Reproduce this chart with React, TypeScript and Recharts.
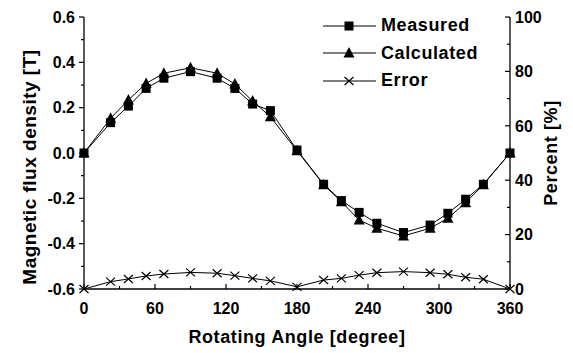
import { Line, LineChart, XAxis, YAxis } from "recharts";

const angles = [
  0, 22.5, 37.5, 52.5, 67.5, 90, 112.5, 127.5, 142.5, 157.5, 180, 202.5, 217.5,
  232.5, 247.5, 270, 292.5, 307.5, 322.5, 337.5, 360,
];
const measured = [
  0, 0.134, 0.207, 0.285, 0.33, 0.359, 0.33, 0.285, 0.216, 0.187, 0.013,
  -0.138, -0.21, -0.262, -0.31, -0.351, -0.318, -0.266, -0.204, -0.138, 0,
];
const calculated = [
  0, 0.153, 0.234, 0.307, 0.352, 0.376, 0.352, 0.304, 0.229, 0.16, 0.01,
  -0.14, -0.215, -0.296, -0.332, -0.366, -0.332, -0.288, -0.219, -0.14, 0,
];
const errorPct = [
  0, 2.7, 3.7, 4.8, 5.5, 6.1, 5.8, 4.9, 3.9, 3.0, 0.8, 3.3, 3.9, 5.1, 6.0,
  6.4, 6.0, 5.4, 4.3, 3.6, 0,
];

const angleTicks = [0, 30, 60, 90, 120, 150, 180, 210, 240, 270, 300, 330, 360];
const fluxTicks = [-0.6, -0.5, -0.4, -0.3, -0.2, -0.1, 0, 0.1, 0.2, 0.3, 0.4, 0.5, 0.6];
const percentTicks = [0, 10, 20, 30, 40, 50, 60, 70, 80, 90, 100];

const legendItems = [
  { name: "Measured", marker: "square" },
  { name: "Calculated", marker: "triangle" },
  { name: "Error", marker: "cross" },
];

const FONT = '"Liberation Sans", Arial, sans-serif';
const textStyle = { fontFamily: FONT, fontWeight: 700, fill: "#000" };

const data = angles.map((angle, i) => ({
  angle,
  measured: measured[i],
  calculated: calculated[i],
  error: errorPct[i],
}));

function markerShape(kind: string, cx: number, cy: number, key?: string) {
  if (kind === "square") {
    return <rect key={key} x={cx - 4.5} y={cy - 4.5} width={9} height={9} fill="#000" />;
  }
  if (kind === "triangle") {
    return (
      <polygon
        key={key}
        points={`${cx},${cy - 6} ${cx + 5.5},${cy + 4.5} ${cx - 5.5},${cy + 4.5}`}
        fill="#000"
      />
    );
  }
  return (
    <path
      key={key}
      d={`M${cx - 4.5},${cy - 4}L${cx + 4.5},${cy + 4}M${cx - 4.5},${cy + 4}L${cx + 4.5},${cy - 4}`}
      stroke="#000"
      strokeWidth={1.2}
      fill="none"
    />
  );
}

const dotFor = (kind: string) => (props: any) =>
  markerShape(kind, props.cx, props.cy, `${kind}-${props.index}`);

function AngleTick({ x, y, payload }: any) {
  const v = payload.value;
  const major = v % 60 === 0;
  return (
    <g>
      <line x1={x} x2={x} y1={y} y2={y - (major ? 5 : 3)} stroke="#000" strokeWidth={1.2} />
      {major && (
        <text x={x} y={y + 25} textAnchor="middle" fontSize={16} style={textStyle}>
          {v}
        </text>
      )}
    </g>
  );
}

function FluxTick({ x, y, payload }: any) {
  const v = payload.value;
  const major = Math.round(v * 10) % 2 === 0;
  const edge = x + 9;
  return (
    <g>
      <line x1={edge} x2={edge - (major ? 5 : 3)} y1={y} y2={y} stroke="#000" strokeWidth={1.2} />
      {major && (
        <text x={x} y={y} dy="0.36em" textAnchor="end" fontSize={16} style={textStyle}>
          {v.toFixed(1)}
        </text>
      )}
    </g>
  );
}

function PercentTick({ x, y, payload }: any) {
  const v = payload.value;
  const major = v % 20 === 0;
  const edge = x - 5;
  return (
    <g>
      <line x1={edge} x2={edge - (major ? 5 : 3)} y1={y} y2={y} stroke="#000" strokeWidth={1.2} />
      {major && (
        <text x={x} y={y} dy="0.36em" textAnchor="start" fontSize={16} style={textStyle}>
          {v}
        </text>
      )}
    </g>
  );
}

function Legend() {
  return (
    <div style={{ position: "absolute", left: 320, top: 12 }}>
      {legendItems.map((item) => (
        <div key={item.name} style={{ display: "flex", alignItems: "center", height: 27.5 }}>
          <svg width={60} height={14}>
            <line x1={3} x2={56} y1={7} y2={7} stroke="#000" strokeWidth={1} />
            {markerShape(item.marker, 29, 7)}
          </svg>
          <span
            style={{
              fontFamily: FONT,
              fontWeight: 700,
              fontSize: 18,
              letterSpacing: 0.6,
              marginLeft: 1,
            }}
          >
            {item.name}
          </span>
        </div>
      ))}
    </div>
  );
}

export default function App() {
  return (
    <div style={{ position: "absolute", left: 0, top: 0, width: 573, height: 353, background: "#fff" }}>
      <LineChart
        width={573}
        height={353}
        data={data}
        margin={{ top: 17, right: 18, bottom: 34, left: 24 }}
      >
        <XAxis
          dataKey="angle"
          type="number"
          domain={[0, 360]}
          ticks={angleTicks}
          interval={0}
          tickSize={0}
          tickMargin={0}
          tickLine={false}
          height={30}
          axisLine={{ stroke: "#000", strokeWidth: 1.3 }}
          tick={AngleTick}
          label={{
            content: (p: any) => {
              const vb = p.viewBox ?? { x: 84, y: 289, width: 426, height: 30 };
              return (
                <text
                  x={vb.x + vb.width / 2}
                  y={vb.y + vb.height + 24}
                  textAnchor="middle"
                  fontSize={18}
                  letterSpacing={0.6}
                  style={textStyle}
                >
                  Rotating Angle [degree]
                </text>
              );
            },
          }}
        />
        <YAxis
          yAxisId="left"
          domain={[-0.6, 0.6]}
          ticks={fluxTicks}
          interval={0}
          width={60}
          tickSize={0}
          tickMargin={9}
          tickLine={false}
          axisLine={{ stroke: "#000", strokeWidth: 1.3 }}
          tick={FluxTick}
          label={{
            content: (p: any) => {
              const vb = p.viewBox ?? { x: 24, y: 17, width: 60, height: 272 };
              const cx = vb.x + 5;
              const cy = vb.y + vb.height / 2 + 14;
              return (
                <text
                  transform={`translate(${cx},${cy}) rotate(-90)`}
                  textAnchor="middle"
                  dominantBaseline="central"
                  fontSize={19}
                  letterSpacing={0.5}
                  style={textStyle}
                >
                  Magnetic flux density [T]
                </text>
              );
            },
          }}
        />
        <YAxis
          yAxisId="right"
          orientation="right"
          domain={[0, 100]}
          ticks={percentTicks}
          interval={0}
          width={45}
          tickSize={0}
          tickMargin={5}
          tickLine={false}
          axisLine={{ stroke: "#000", strokeWidth: 1.3 }}
          tick={PercentTick}
          label={{
            content: (p: any) => {
              const vb = p.viewBox ?? { x: 510, y: 17, width: 45, height: 272 };
              const cx = vb.x + 41;
              const cy = vb.y + vb.height / 2;
              return (
                <text
                  transform={`translate(${cx},${cy}) rotate(-90)`}
                  textAnchor="middle"
                  dominantBaseline="central"
                  fontSize={18}
                  letterSpacing={0.6}
                  style={textStyle}
                >
                  Percent [%]
                </text>
              );
            },
          }}
        />
        <Line
          type="linear"
          yAxisId="right"
          dataKey="error"
          name="Error"
          stroke="#000"
          strokeWidth={1}
          dot={dotFor("cross")}
          isAnimationActive={false}
        />
        <Line
          type="linear"
          yAxisId="left"
          dataKey="measured"
          name="Measured"
          stroke="#000"
          strokeWidth={1}
          dot={dotFor("square")}
          isAnimationActive={false}
        />
        <Line
          type="linear"
          yAxisId="left"
          dataKey="calculated"
          name="Calculated"
          stroke="#000"
          strokeWidth={1}
          dot={dotFor("triangle")}
          isAnimationActive={false}
        />
      </LineChart>
      <Legend />
    </div>
  );
}
